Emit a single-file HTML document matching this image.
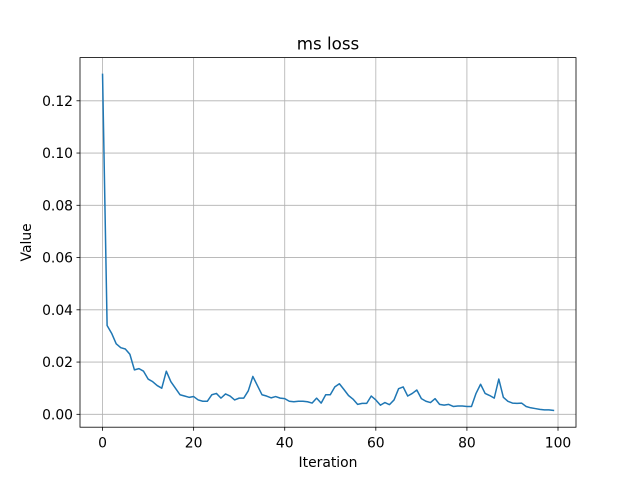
<!DOCTYPE html>
<html><head><meta charset="utf-8"><style>
body{margin:0;background:#fff;}
svg{display:block;font-family:"DejaVu Sans","Liberation Sans",sans-serif;}
</style></head><body>
<svg id="chart" width="640" height="480" viewBox="0 0 640 480" xmlns="http://www.w3.org/2000/svg">
<rect width="640" height="480" fill="#fff"/>
<g id="grid"></g>
<g id="ticks"></g>
<path id="line" fill="none" stroke="#1f77b4" stroke-width="1.5" stroke-linejoin="round" stroke-linecap="square"/>
<rect x="80" y="57.6" width="496" height="369.6" fill="none" stroke="#000" stroke-width="0.8"/>
<text x="328" y="49.5" text-anchor="middle" font-size="16.7">ms loss</text>
<text x="328" y="467" text-anchor="middle" font-size="13.9">Iteration</text>
<text transform="translate(31,242.4) rotate(-90)" text-anchor="middle" font-size="13.9">Value</text>
</svg>
<script>
const values=[0.1301,0.034,0.031,0.027,0.0255,0.025,0.023,0.017,0.0175,0.0165,0.0135,0.0125,0.011,0.010,0.0165,0.0125,0.010,0.0075,0.007,0.0065,0.0068,0.0055,0.005,0.005,0.0075,0.008,0.0062,0.0078,0.007,0.0055,0.0062,0.0062,0.009,0.0145,0.011,0.0075,0.007,0.0063,0.0068,0.0062,0.006,0.005,0.0048,0.005,0.005,0.0048,0.0043,0.0062,0.0043,0.0075,0.0075,0.0105,0.0117,0.0095,0.0072,0.0058,0.0038,0.0042,0.0042,0.007,0.0055,0.0035,0.0045,0.0037,0.0055,0.0098,0.0105,0.007,0.008,0.0093,0.006,0.005,0.0045,0.006,0.0038,0.0035,0.0038,0.003,0.0032,0.0032,0.003,0.003,0.008,0.0115,0.008,0.0072,0.0062,0.0135,0.0065,0.005,0.0043,0.0042,0.0043,0.003,0.0025,0.0022,0.0019,0.0017,0.0017,0.0015];
const xTicks=[0,20,40,60,80,100];
const yTicks=[0,0.02,0.04,0.06,0.08,0.10,0.12];
const yTickLabels=["0.00","0.02","0.04","0.06","0.08","0.10","0.12"];
const NS="http://www.w3.org/2000/svg";
const L=80,R=576,T=57.6,B=427.2;
const xmin=-4.95,xmax=103.95;
const dmin=Math.min(...values),dmax=Math.max(...values),pad=(dmax-dmin)*0.05;
const ymin=dmin-pad,ymax=dmax+pad;
const sx=v=>L+(v-xmin)/(xmax-xmin)*(R-L);
const sy=v=>B-(v-ymin)/(ymax-ymin)*(B-T);
const grid=document.getElementById('grid'),ticks=document.getElementById('ticks');
function mk(tag,attrs,parent){const e=document.createElementNS(NS,tag);for(const k in attrs)e.setAttribute(k,attrs[k]);parent.appendChild(e);return e;}
xTicks.forEach(t=>{const x=sx(t);
 const g=mk('line',{x1:x,x2:x,y1:T,y2:B,stroke:'#b0b0b0','stroke-width':0.8},grid);
 
 
 const tk=mk('line',{x1:x,x2:x,y1:B,y2:B+3.5,stroke:'#000','stroke-width':0.8},ticks);
 
 
 const tx=mk('text',{x:x,y:B+20.5,'text-anchor':'middle','font-size':13.9},ticks);tx.textContent=t;
 
 
});
yTicks.forEach((t,i)=>{const y=sy(t);
 const g=mk('line',{x1:L,x2:R,y1:y,y2:y,stroke:'#b0b0b0','stroke-width':0.8},grid);
 
 
 const tk=mk('line',{x1:L-3.5,x2:L,y1:y,y2:y,stroke:'#000','stroke-width':0.8},ticks);
 
 
 const tx=mk('text',{x:L-7,y:y+5,'text-anchor':'end','font-size':13.9},ticks);tx.textContent=yTickLabels[i];
 
 
});
document.getElementById('line').setAttribute('d',values.map((v,i)=>(i?'L':'M')+sx(i).toFixed(2)+','+sy(v).toFixed(2)).join(''));
</script>
</body></html>
